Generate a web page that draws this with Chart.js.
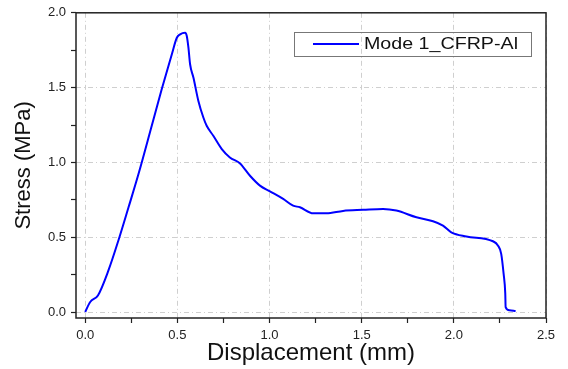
<!DOCTYPE html>
<html>
<head>
<meta charset="utf-8">
<script src="https://cdn.jsdelivr.net/npm/chart.js@4"></script>
<style>
  html, body { margin: 0; padding: 0; background: #fff; }
  #wrap { width: 568px; height: 369px; }
</style>
</head>
<body>
<div id="wrap"><canvas id="stress-chart" width="568" height="369"></canvas></div>
<script>
  // Data
  const seriesLabel = 'Mode 1_CFRP-Al';
  const displacement = [0, 0.027, 0.069, 0.126, 0.18, 0.235, 0.289, 0.361, 0.415, 0.47, 0.497, 0.515, 0.542,
    0.551, 0.56, 0.569, 0.587, 0.614, 0.641, 0.659, 0.695, 0.741, 0.785, 0.84, 0.894, 0.948, 1.002,
    1.074, 1.128, 1.165, 1.237, 1.309, 1.399, 1.508, 1.616, 1.688, 1.797, 1.887, 1.941, 1.986, 2.068,
    2.212, 2.239, 2.257, 2.27, 2.279, 2.281, 2.302, 2.335];
  const stress = [0, 0.067, 0.111, 0.278, 0.478, 0.7, 0.922, 1.245, 1.489, 1.723, 1.833, 1.856, 1.866,
    1.845, 1.767, 1.656, 1.567, 1.411, 1.3, 1.245, 1.178, 1.089, 1.033, 0.993, 0.911, 0.845, 0.807,
    0.756, 0.711, 0.7, 0.66, 0.66, 0.676, 0.683, 0.689, 0.678, 0.633, 0.607, 0.578, 0.533, 0.505,
    0.473, 0.445, 0.389, 0.256, 0.123, 0.033, 0.011, 0.007];

  const isMajor = v => Math.abs(v * 2 - Math.round(v * 2)) < 1e-9;
  const fontFamily = '"Liberation Sans", Arial, sans-serif';

  // box frame + legend drawn inside the plot
  const framePlugin = {
    id: 'frame',
    afterDraw(chart) {
      const { ctx, chartArea: a } = chart;
      ctx.save();
      ctx.strokeStyle = '#222';
      ctx.lineWidth = 1.5;
      ctx.strokeRect(a.left, a.top, a.right - a.left, a.bottom - a.top);

      // legend
      ctx.strokeStyle = '#777';
      ctx.lineWidth = 1;
      ctx.strokeRect(294.5, 32.5, 237, 24);
      ctx.strokeStyle = '#0000ff';
      ctx.lineWidth = 2;
      ctx.beginPath();
      ctx.moveTo(313, 44);
      ctx.lineTo(359, 44);
      ctx.stroke();
      ctx.fillStyle = '#111';
      ctx.font = '16px ' + fontFamily;
      ctx.textBaseline = 'middle';
      const label = chart.data.datasets[0].label;
      const w = ctx.measureText(label).width;
      ctx.translate(364, 45);
      ctx.scale(154 / w, 1); // the original text is a bit wide
      ctx.fillText(label, 0, 0);
      ctx.restore();
    }
  };

  const ctx = document.getElementById('stress-chart').getContext('2d');
  const stressChart = new Chart(ctx, {
    type: 'scatter',
    data: {
      datasets: [
        {
          label: seriesLabel,
          data: displacement.map((x, i) => ({ x: x, y: stress[i] })),
          showLine: true,
          borderColor: '#0000ff',
          borderWidth: 2,
          pointRadius: 0,
          cubicInterpolationMode: 'monotone',
          fill: false
        }
      ]
    },
    options: {
      responsive: false,
      animation: false,
      layout: { padding: { left: 0, right: 22, top: 11, bottom: 0 } },
      plugins: {
        legend: { display: false },
        tooltip: { enabled: false }
      },
      scales: {
        x: {
          type: 'linear',
          min: -0.05,
          max: 2.5,
          afterFit: s => { s.height = 51; },
          border: { display: false, dash: [5, 3, 1, 3] },
          grid: {
            color: c => isMajor(c.tick.value) ? '#cfcfcf' : 'rgba(0,0,0,0)',
            tickColor: '#222',
            tickLength: 5,
            tickWidth: 1.2
          },
          ticks: {
            stepSize: 0.25,
            includeBounds: false,
            autoSkip: false,
            maxRotation: 0,
            padding: 5,
            color: '#222',
            font: { family: fontFamily, size: 13 },
            callback: v => isMajor(v) ? v.toFixed(1) : ''
          },
          title: {
            display: true,
            text: 'Displacement (mm)',
            color: '#111',
            font: { family: fontFamily, size: 24, lineHeight: 1 },
            padding: { top: 0, bottom: 4 }
          }
        },
        y: {
          min: -0.04,
          max: 2.0,
          afterFit: s => { s.width = 76; },
          border: { display: false, dash: [5, 3, 1, 3] },
          grid: {
            color: c => isMajor(c.tick.value) ? '#cfcfcf' : 'rgba(0,0,0,0)',
            tickColor: '#222',
            tickLength: 5,
            tickWidth: 1.2
          },
          ticks: {
            stepSize: 0.25,
            includeBounds: false,
            autoSkip: false,
            padding: 5,
            color: '#222',
            font: { family: fontFamily, size: 13 },
            callback: v => isMajor(v) ? v.toFixed(1) : ''
          },
          title: {
            display: true,
            text: 'Stress (MPa)',
            color: '#111',
            font: { family: fontFamily, size: 22, lineHeight: 1 },
            padding: { top: 13, bottom: 0 }
          }
        }
      }
    },
    plugins: [framePlugin]
  });
</script>
</body>
</html>
